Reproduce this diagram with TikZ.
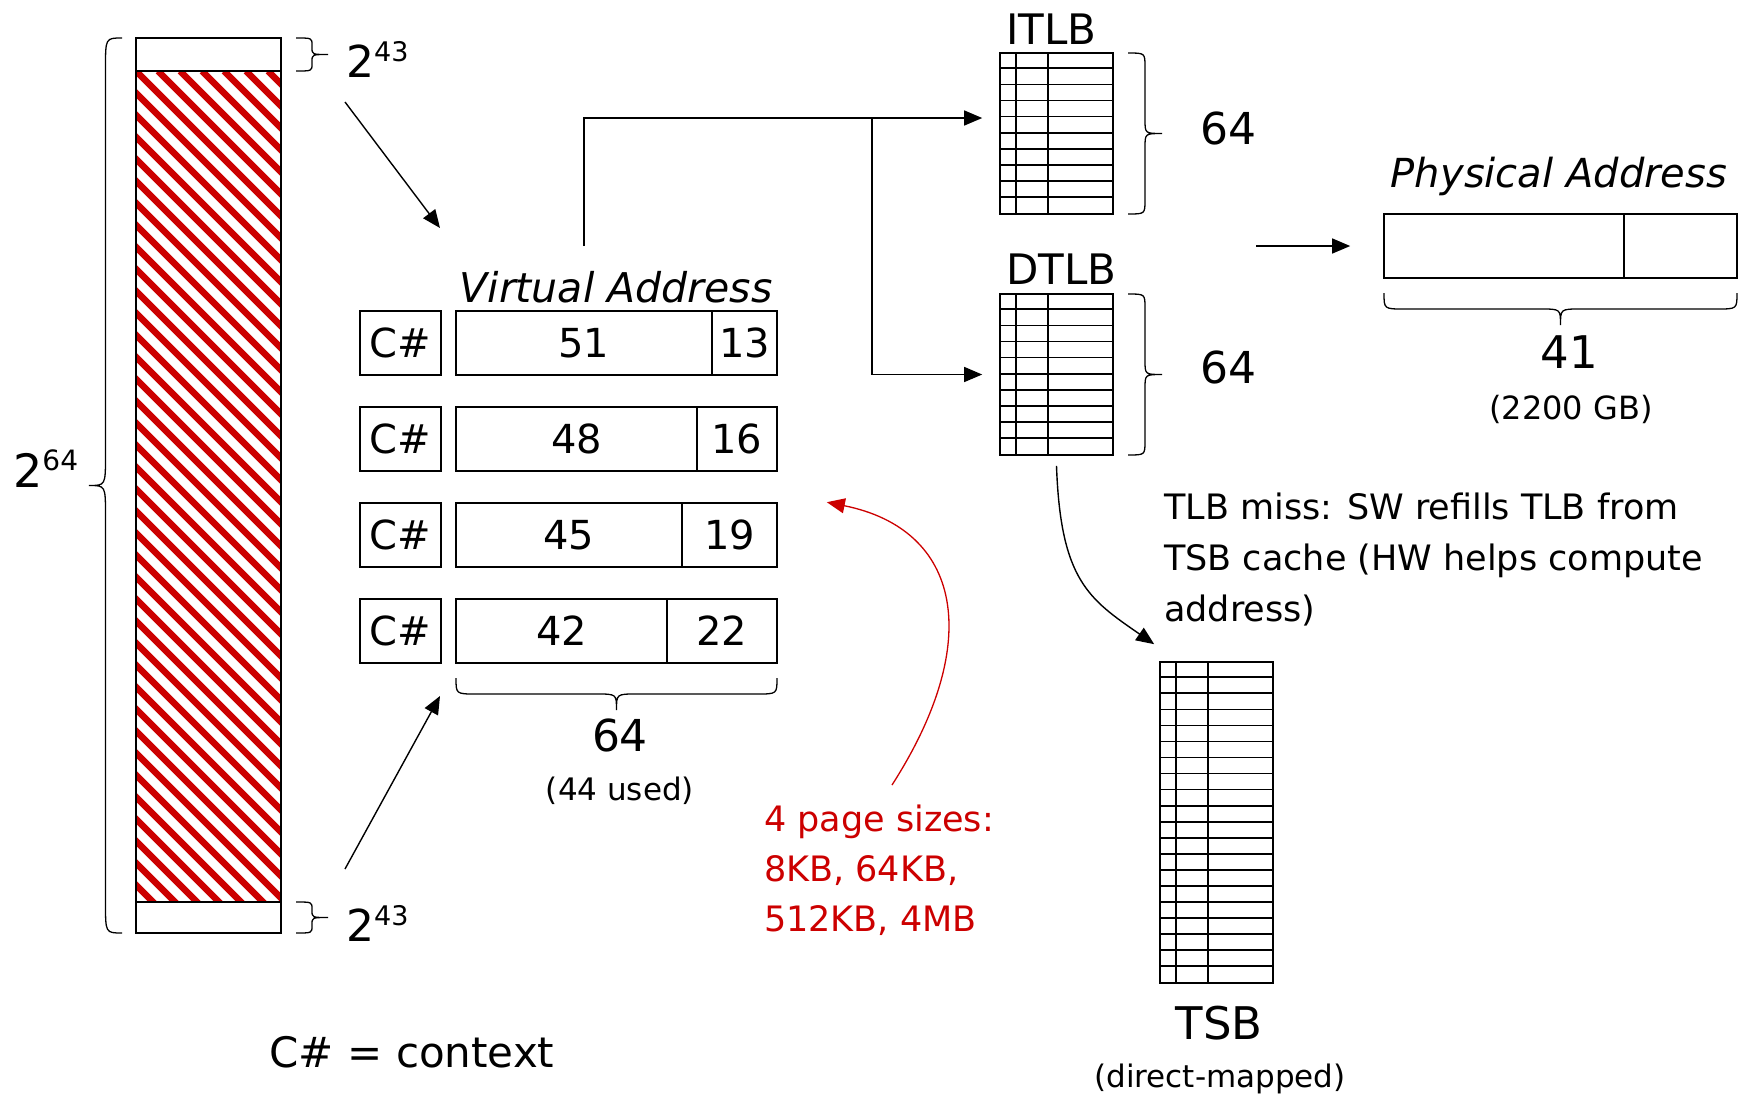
\documentclass[tikz,border=0pt]{standalone}
\usepackage{fontspec}
\setmainfont{DejaVu Sans}
\usetikzlibrary{arrows.meta}
\definecolor{hatchred}{RGB}{204,0,0}
\newcommand\fs[1]{\fontsize{#1}{#1}\selectfont}
% vertical curly brace: x of ends, y top, y bottom, depth (sign = side), curl length
\newcommand\vbrace[5]{%
  \pgfmathsetmacro\bxs{#1+#4/2}\pgfmathsetmacro\bxt{#1+#4}\pgfmathsetmacro\bym{(#2+#3)/2}%
  \draw[brc] (#1,#2) .. controls (\bxs,#2) .. (\bxs,#2+#5) -- (\bxs,\bym-#5)
    .. controls (\bxs,\bym) .. (\bxt,\bym) .. controls (\bxs,\bym) .. (\bxs,\bym+#5)
    -- (\bxs,#3-#5) .. controls (\bxs,#3) .. (#1,#3);}
% horizontal curly brace opening upwards: y of ends, x left, x right, depth, curl length
\newcommand\hbrace[5]{%
  \pgfmathsetmacro\bys{#1+#4/2}\pgfmathsetmacro\byt{#1+#4}\pgfmathsetmacro\bxm{(#2+#3)/2}%
  \draw[brc] (#2,#1) .. controls (#2,\bys) .. (#2+#5,\bys) -- (\bxm-#5,\bys)
    .. controls (\bxm,\bys) .. (\bxm,\byt) .. controls (\bxm,\bys) .. (\bxm+#5,\bys)
    -- (#3-#5,\bys) .. controls (#3,\bys) .. (#3,#1);}
% row and column rules inside a TLB-style table node: node, inner rows, row height
\newcommand\tablegrid[3]{%
  \foreach \r in {1,...,#2}
    \draw[gridline] ([yshift={-\r*#3pt}]#1.north west) -- ([yshift={-\r*#3pt}]#1.north east);
  \draw[gridline] ([xshift=16.5pt]#1.north west) -- ([xshift=16.5pt]#1.south west);
  \draw[gridline] ([xshift=49pt]#1.north west) -- ([xshift=49pt]#1.south west);}
\begin{document}
\begin{tikzpicture}[x=1pt,y=-1pt,
  outline/.style={draw, line width=1.6pt, inner sep=0pt},
  fld/.style={outline, minimum height=64pt, font=\fs{40}},
  tlbtable/.style={outline, minimum width=113pt},
  gridline/.style={line width=1.7pt},
  conn/.style={line width=1.4pt, -{Triangle[length=18pt,width=15pt]}},
  brc/.style={line width=1.3pt},
  lbl/.style={inner sep=0pt},
]
\useasboundingbox (0,0) rectangle (1746,1100);

% ---- 64-bit address space with the unused hole ----
\begin{scope}
  \clip (136,71) rectangle (281,902);
  \foreach \k in {-880,-858,...,160}
    \draw[hatchred, line width=6.5pt] ({136+\k},71) -- ++(900,900);
\end{scope}
\node[outline, line width=1.4pt, minimum width=145pt, minimum height=895pt] (space) at (208.5,485.5) {};
\draw[line width=1.4pt] (136,71) -- (281,71);
\draw[line width=1.4pt] (136,902) -- (281,902);

\vbrace{122}{38}{933}{-33}{30}
\vbrace{296}{38}{71}{32}{7}
\vbrace{296}{902}{933}{32}{7}
\node[lbl, anchor=base west] (exp64) at (13,487) {\fs{46}2\raisebox{17pt}{\fs{28}64}};
\node[lbl, anchor=base west] (exptop) at (346,77) {\fs{44}2\raisebox{16pt}{\fs{27}43}};
\node[lbl, anchor=base west] (expbot) at (346,941) {\fs{44}2\raisebox{16pt}{\fs{27}43}};

% ---- virtual address formats ----
\node[lbl, font={\fs{41}\itshape}] (valabel) at (616,287) {Virtual Address};
\foreach \i/\y/\d/\hi/\lo in {1/343/712/51/13, 2/439/697/48/16, 3/535/682/45/19, 4/631/667/42/22}{
  \node[fld, minimum width=81pt] (ctx\i) at (400.5,\y) {C\#};
  \node[fld, minimum width={(\d-456)*1pt}] (vh\i) at ({(456+\d)/2},\y) {\hi};
  \node[fld, minimum width={(777-\d)*1pt}] (vl\i) at ({(\d+777)/2},\y) {\lo};
}
\hbrace{678}{456}{777}{32}{20}
\node[lbl, font=\fs{44}] (vabits) at (620,735) {64};
\node[lbl, font=\fs{31}] (vaused) at (620,791) {(44 used)};

\coordinate (topsrc) at (345,102);
\coordinate (topdst) at (440,228);
\coordinate (botsrc) at (345,869);
\coordinate (botdst) at (440,696);
\draw[conn] (topsrc) -- (topdst);
\draw[conn] (botsrc) -- (botdst);

\node[lbl, font=\fs{42}] (ctxnote) at (412,1052) {C\# = context};

% ---- page sizes ----
\node[lbl, anchor=north west, align=left, text=hatchred, font={\fontsize{35}{50}\selectfont}] (pagesizes) at (764,805)
  {4 page sizes:\\8KB, 64KB,\\512KB, 4MB};
\coordinate (redsrc) at (892,785);
\draw[conn, hatchred, line width=1.3pt] (redsrc) .. controls +(93,-145) and +(134,27) .. ([xshift=49pt]vl3.north east);

% ---- TLBs ----
\node[lbl, anchor=west, font=\fs{42}] (itlblabel) at (1006,29) {ITLB};
\node[tlbtable, minimum height=161pt] (itlb) at (1056.5,133.5) {};
\tablegrid{itlb}{9}{16.1}
\vbrace{1128}{53}{214}{34}{14}
\node[lbl, font=\fs{44}] (itlbn) at (1228,128) {64};

\node[lbl, anchor=west, font=\fs{42}] (dtlblabel) at (1006,269) {DTLB};
\node[tlbtable, minimum height=161pt] (dtlb) at (1056.5,374.5) {};
\tablegrid{dtlb}{9}{16.1}
\vbrace{1128}{294}{455}{34}{14}
\node[lbl, font=\fs{44}] (dtlbn) at (1228,367) {64};

\coordinate (vasrc) at (584,246);
\coordinate (split) at (872,118);
\draw[conn] (vasrc) |- ([xshift=-17pt,yshift=15.5pt]itlb.west);
\draw[conn] (split) |- ([xshift=-17pt]dtlb.west);

% ---- physical address ----
\node[lbl, font={\fs{40}\itshape}] (palabel) at (1559,176) {Physical Address};
\node[outline, minimum width=240pt, minimum height=64pt] (pahi) at (1504,246) {};
\node[outline, minimum width=113pt, minimum height=64pt] (palo) at (1680.5,246) {};
\coordinate (pasrc) at (1256,246);
\draw[conn] (pasrc) -- ([xshift=-33pt]pahi.west);
\hbrace{293}{1384}{1737}{32}{20}
\node[lbl, font=\fs{45}] (pabits) at (1569,352) {41};
\node[lbl, font=\fs{32}] (pasize) at (1571,409) {(2200 GB)};

% ---- TSB ----
\node[lbl, anchor=north west, align=left, font={\fontsize{35}{51}\selectfont}] (missnote) at (1164,493)
  {TLB miss: SW refills TLB from\\TSB cache (HW helps compute\\address)};
\node[tlbtable, minimum height=321pt] (tsb) at (1216.5,822.5) {};
\tablegrid{tsb}{19}{16.05}
\draw[conn] ([yshift=-10pt]dtlb.south) .. controls +(4,115) and +(-65,-45) .. ([xshift=-5pt,yshift=17pt]tsb.north west);
\node[lbl, font=\fs{45}] (tsblabel) at (1219,1023) {TSB};
\node[lbl, font=\fs{31}] (tsbnote) at (1220,1079) {(direct-mapped)};
\end{tikzpicture}
\end{document}
